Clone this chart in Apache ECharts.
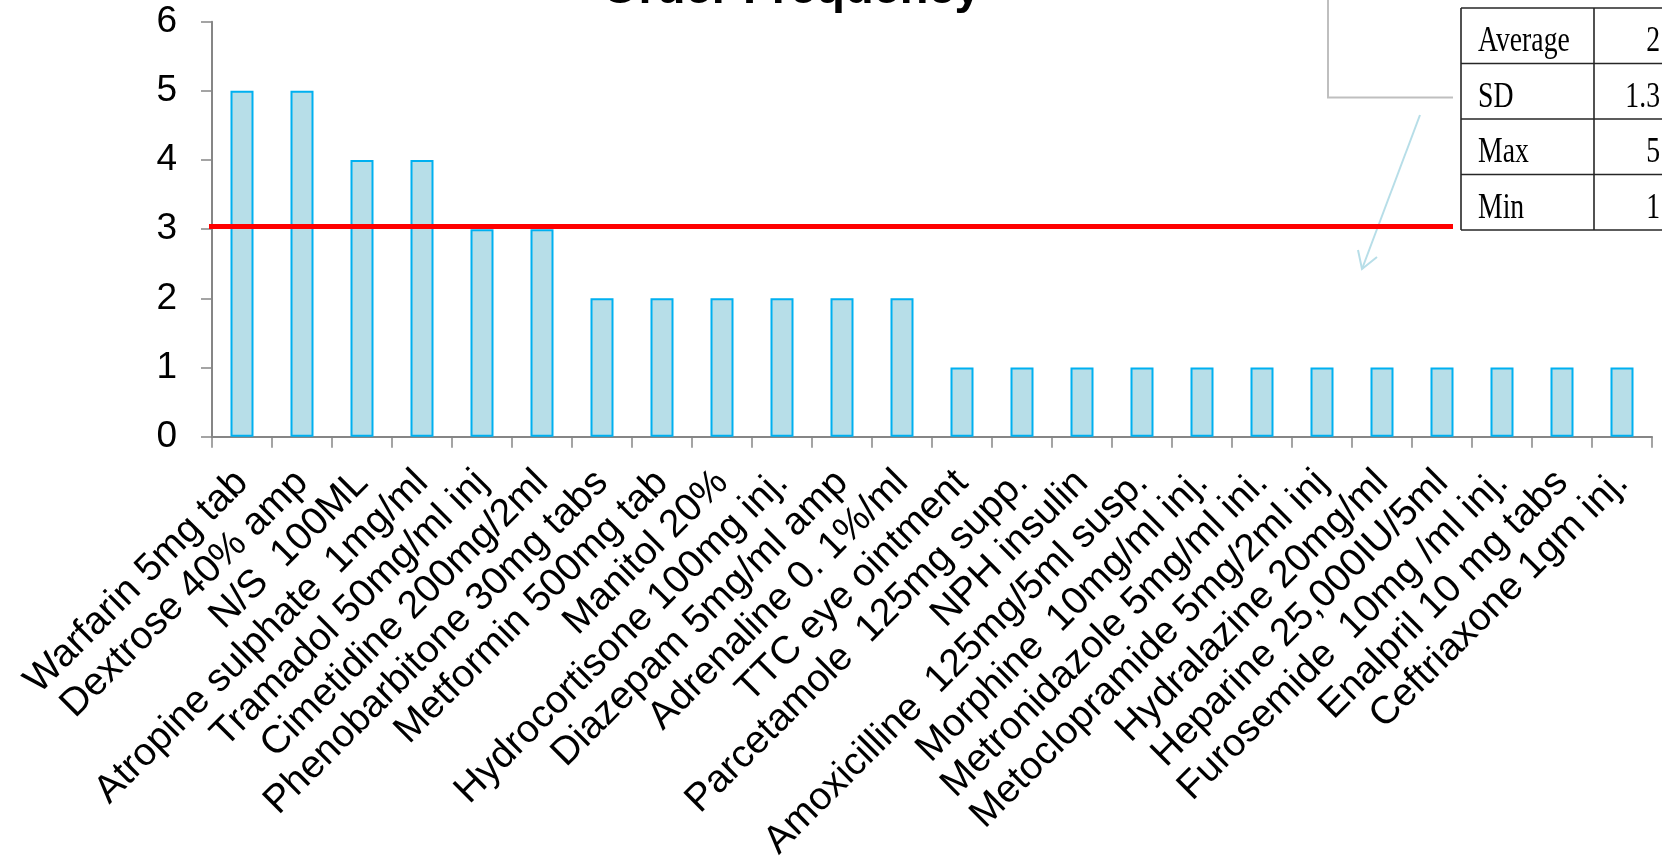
<!DOCTYPE html>
<html>
<head>
<meta charset="utf-8">
<title>Order Frequency</title>
<script src="https://cdn.jsdelivr.net/npm/echarts@6/dist/echarts.min.js"></script>
<style>
  html, body { margin: 0; padding: 0; background: #ffffff; }
  #chart { width: 1662px; height: 865px; }
</style>
</head>
<body>
<div id="chart"></div>
<script>
// Drugs ordered, most frequent first
const drugNames = [
  'Warfarin 5mg tab',
  'Dextrose 40% amp',
  'N/S  100ML',
  'Atropine sulphate  1mg/ml',
  'Tramadol 50mg/ml inj',
  'Cimetidine 200mg/2ml',
  'Phenobarbitone 30mg tabs',
  'Metformin 500mg tab',
  'Manitol 20%',
  'Hydrocortisone 100mg inj.',
  'Diazepam 5mg/ml amp',
  'Adrenaline 0. 1%/ml',
  'TTC eye ointment',
  'Parcetamole  125mg supp.',
  'NPH insulin',
  'Amoxicilline  125mg/5ml susp.',
  'Morphine  10mg/ml inj.',
  'Metronidazole 5mg/ml ini.',
  'Metoclopramide 5mg/2ml inj',
  'Hydralazine 20mg/ml',
  'Heparine 25,000IU/5ml',
  'Furosemide  10mg /ml inj.',
  'Enalpril 10 mg tabs',
  'Ceftriaxone 1gm inj.'
];

// Number of orders per drug
const orderCounts = [5, 5, 4, 4, 3, 3, 2, 2, 2, 2, 2, 2, 1, 1, 1, 1, 1, 1, 1, 1, 1, 1, 1, 1];

// Value axis range
const yMin = 0;
const yMax = 6;
const yStep = 1;

// Threshold level marked in red
const thresholdValue = 3.04;

// Summary statistics box
const statLabels = ['Average', 'SD', 'Max', 'Min'];
const statValues = ['2', '1.3', '5', '1'];

const sansFont = '"Liberation Sans", Arial, Helvetica, sans-serif';
const serifFont = '"Liberation Serif", "Times New Roman", serif';
const axisGray = '#868686';

// Summary table drawn as graphic elements
const tableLeft = 1461;
const tableDivider = 1594;
const tableRight = 1675;
const tableTop = 8;
const rowHeight = 55.5;

const tableGraphics = [];
for (let i = 0; i <= statLabels.length; i++) {
  const y = tableTop + i * rowHeight;
  tableGraphics.push({
    type: 'line', silent: true,
    shape: { x1: tableLeft, y1: y, x2: tableRight, y2: y },
    style: { stroke: '#262626', lineWidth: 1.6 }
  });
}
[tableLeft, tableDivider].forEach(function (x) {
  tableGraphics.push({
    type: 'line', silent: true,
    shape: { x1: x, y1: tableTop, x2: x, y2: tableTop + statLabels.length * rowHeight },
    style: { stroke: '#262626', lineWidth: 1.6 }
  });
});
statLabels.forEach(function (label, i) {
  const cy = tableTop + i * rowHeight + 34;
  tableGraphics.push({
    type: 'text', silent: true,
    x: 1478, y: cy, scaleX: 0.77,
    style: {
      text: label, fontSize: 36, fontFamily: serifFont, fill: '#000000',
      align: 'left', textAlign: 'left', verticalAlign: 'middle', textVerticalAlign: 'middle'
    }
  });
  tableGraphics.push({
    type: 'text', silent: true,
    x: 1660, y: cy, scaleX: 0.77,
    style: {
      text: statValues[i], fontSize: 36, fontFamily: serifFont, fill: '#000000',
      align: 'right', textAlign: 'right', verticalAlign: 'middle', textVerticalAlign: 'middle'
    }
  });
});

// Callout bracket and pointer arrow
const calloutGraphics = [
  {
    type: 'polyline', silent: true,
    shape: { points: [[1328, -4], [1328, 97.5], [1453, 97.5]] },
    style: { stroke: '#bfbfbf', lineWidth: 2, fill: null }
  },
  {
    type: 'line', silent: true,
    shape: { x1: 1420, y1: 115, x2: 1362, y2: 269 },
    style: { stroke: '#b7dee8', lineWidth: 2 }
  },
  {
    type: 'polyline', silent: true,
    shape: { points: [[1358, 250], [1362, 269], [1377, 257]] },
    style: { stroke: '#b7dee8', lineWidth: 2, fill: null }
  }
];

const chart = echarts.init(document.getElementById('chart'), null, { renderer: 'canvas' });

chart.setOption({
  animation: false,
  backgroundColor: '#ffffff',
  title: {
    text: 'Order Frequency',
    left: 602,
    top: -33,
    padding: 0,
    textStyle: {
      fontFamily: sansFont,
      fontSize: 47,
      fontWeight: 'bold',
      color: '#000000'
    }
  },
  grid: {
    left: 212,
    right: 10,
    top: 21.7,
    bottom: 428.3,
    containLabel: false
  },
  xAxis: {
    type: 'category',
    data: drugNames,
    boundaryGap: true,
    axisLine: { show: true, lineStyle: { color: axisGray, width: 2 } },
    axisTick: { show: true, alignWithLabel: false, length: 11, inside: false,
      lineStyle: { color: axisGray, width: 1.5 } },
    axisLabel: {
      interval: 0,
      rotate: 45,
      margin: 40,
      fontFamily: sansFont,
      fontSize: 39,
      color: '#000000'
    },
    splitLine: { show: false }
  },
  yAxis: {
    type: 'value',
    min: yMin,
    max: yMax,
    interval: yStep,
    axisLine: { show: true, lineStyle: { color: axisGray, width: 2 } },
    axisTick: { show: true, length: 11, inside: false,
      lineStyle: { color: axisGray, width: 1.5 } },
    axisLabel: {
      margin: 35,
      fontFamily: sansFont,
      fontSize: 37,
      color: '#000000'
    },
    splitLine: { show: false }
  },
  series: [
    {
      name: 'Orders',
      type: 'bar',
      data: orderCounts,
      barWidth: 23,
      itemStyle: {
        color: '#b7dee8',
        borderColor: '#00b0f0',
        borderWidth: 2
      },
      emphasis: { disabled: true },
      markLine: {
        silent: true,
        symbol: ['none', 'none'],
        label: { show: false },
        lineStyle: { color: '#ff0000', width: 5, type: 'solid' },
        emphasis: { disabled: true },
        data: [[
          { x: 209, yAxis: thresholdValue },
          { x: 1453, yAxis: thresholdValue }
        ]]
      }
    }
  ],
  graphic: calloutGraphics.concat(tableGraphics)
});
</script>
</body>
</html>
